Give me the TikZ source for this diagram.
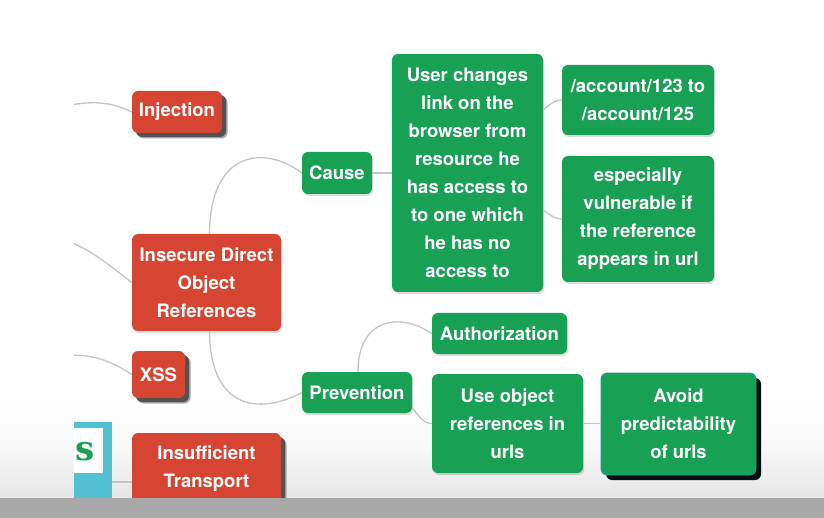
\documentclass[tikz,border=0pt]{standalone}
\usepackage{fontspec}
\newfontfamily\helv{TeX Gyre Heros}
\newfontfamily\slab{DejaVu Serif}
\usetikzlibrary{shadows,calc}
\definecolor{redn}{RGB}{214,69,49}
\definecolor{greenn}{RGB}{24,160,84}
\definecolor{tealb}{RGB}{80,192,210}
\definecolor{tealdk}{RGB}{40,150,170}
\definecolor{connc}{RGB}{196,196,196}
\definecolor{bandc}{RGB}{168,168,168}
\tikzset{
  mm/.style={rounded corners=6pt, text=white, inner sep=0pt, align=center,
    font=\helv\fontsize{18.5}{28}\selectfont\bfseries},
  rednode/.style={mm, fill=redn},
  greennode/.style={mm, fill=greenn},
  softshadow/.style={general shadow={shadow xshift=1.2pt, shadow yshift=-2pt, fill=black, opacity=0.14}},
  hardshadow/.style={general shadow={shadow xshift=5.5pt, shadow yshift=-5.5pt, fill=black!35, opacity=1},
                     general shadow={shadow xshift=4pt, shadow yshift=-4pt, fill=black!68, opacity=1}},
  darkshadow/.style={general shadow={shadow xshift=5pt, shadow yshift=-5pt, fill=black!88!teal, opacity=1}},
  conn/.style={draw=connc, line width=1.3pt},
}
\begin{document}
\begin{tikzpicture}[x=1pt,y=-1pt]
\useasboundingbox (0,0) rectangle (824,518);
\fill[white] (0,0) rectangle (824,518);
\shade[top color=white, bottom color=black!10, middle color=black!3] (0,400) rectangle (824,498);
\begin{scope}
\clip (74,0) rectangle (824,498);
% teal box at left
\fill[tealb] (60,422) rectangle (112,505);
\fill[white] (60,428) rectangle (103,473);
\node[font=\slab\bfseries\fontsize{34}{34}\selectfont, text=greenn, inner sep=0pt] (tealS) at (85,452) {s};
\coordinate (tealR) at (112,482);
% free ends on the left
\coordinate (l1) at (70,105);
\coordinate (l2) at (70,242);
\coordinate (l3) at (70,355);
% red nodes
\node[rednode, hardshadow, minimum width=90, minimum height=42] (inj) at (177,112) {Injection};
\node[rednode, softshadow, minimum width=149, minimum height=97] (idor) at (206.5,282.5) {Insecure Direct\\Object\\References};
\node[rednode, hardshadow, minimum width=53, minimum height=47] (xss) at (158.5,374.5) {XSS};
\node[rednode, hardshadow, minimum width=149, minimum height=72] (insuf) at (206.5,469) {Insufficient\\Transport};
% green nodes
\node[greennode, softshadow, minimum width=70, minimum height=42] (cause) at (337,173) {Cause};
\node[greennode, softshadow, minimum width=151, minimum height=238] (user) at (467.5,173)
  {User changes\\link on the\\browser from\\resource he\\has access to\\to one which\\he has no\\access to};
\node[greennode, softshadow, minimum width=152, minimum height=70] (acct) at (638,100) {/account/123 to\\/account/125};
\node[greennode, softshadow, minimum width=152, minimum height=126] (esp) at (638,219) {especially\\vulnerable if\\the reference\\appears in url};
\node[greennode, softshadow, minimum width=110, minimum height=41] (prev) at (357,392.5) {Prevention};
\node[greennode, softshadow, minimum width=135, minimum height=41] (auth) at (499.5,333.5) {Authorization};
\node[greennode, softshadow, minimum width=151, minimum height=99] (useobj) at (507.5,423.5) {Use object\\references in\\urls};
\node[greennode, darkshadow, draw=tealdk, line width=0.8pt, minimum width=155, minimum height=102] (avoid) at (678.5,424) {Avoid\\predictability\\of urls};
% connectors
\draw[conn] (l1) .. controls (100,100) and (115,104) .. (inj.west);
\draw[conn] (l2) .. controls (95,252) and (115,270) .. (idor.west);
\draw[conn] (l3) .. controls (100,355) and (115,364) .. (xss.west);
\draw[conn] (tealR) -- (insuf.west |- tealR);
\draw[conn] ([xshift=3pt]idor.north) .. controls (210,150) and (265,145) .. (cause.west);
\draw[conn] ([xshift=3pt]idor.south) .. controls (210,410) and (260,415) .. (prev.west);
\draw[conn] (cause.east) -- (user.west);
\draw[conn] ($(user.east)+(0,-63)$) .. controls (550,104) and (555,100) .. (acct.west);
\draw[conn] ($(user.east)+(0,37)$) .. controls (550,215) and (555,219) .. (esp.west);
\draw[conn] ([xshift=1pt]prev.north) .. controls (358,318) and (400,312) .. (auth.west);
\draw[conn] ($(prev.east)+(0,15)$) .. controls (420,418) and (424,423.5) .. (useobj.west);
\draw[conn] (useobj.east) -- (avoid.west |- useobj.east);
\end{scope}
\fill[bandc] (0,498) rectangle (824,518);
\end{tikzpicture}
\end{document}
